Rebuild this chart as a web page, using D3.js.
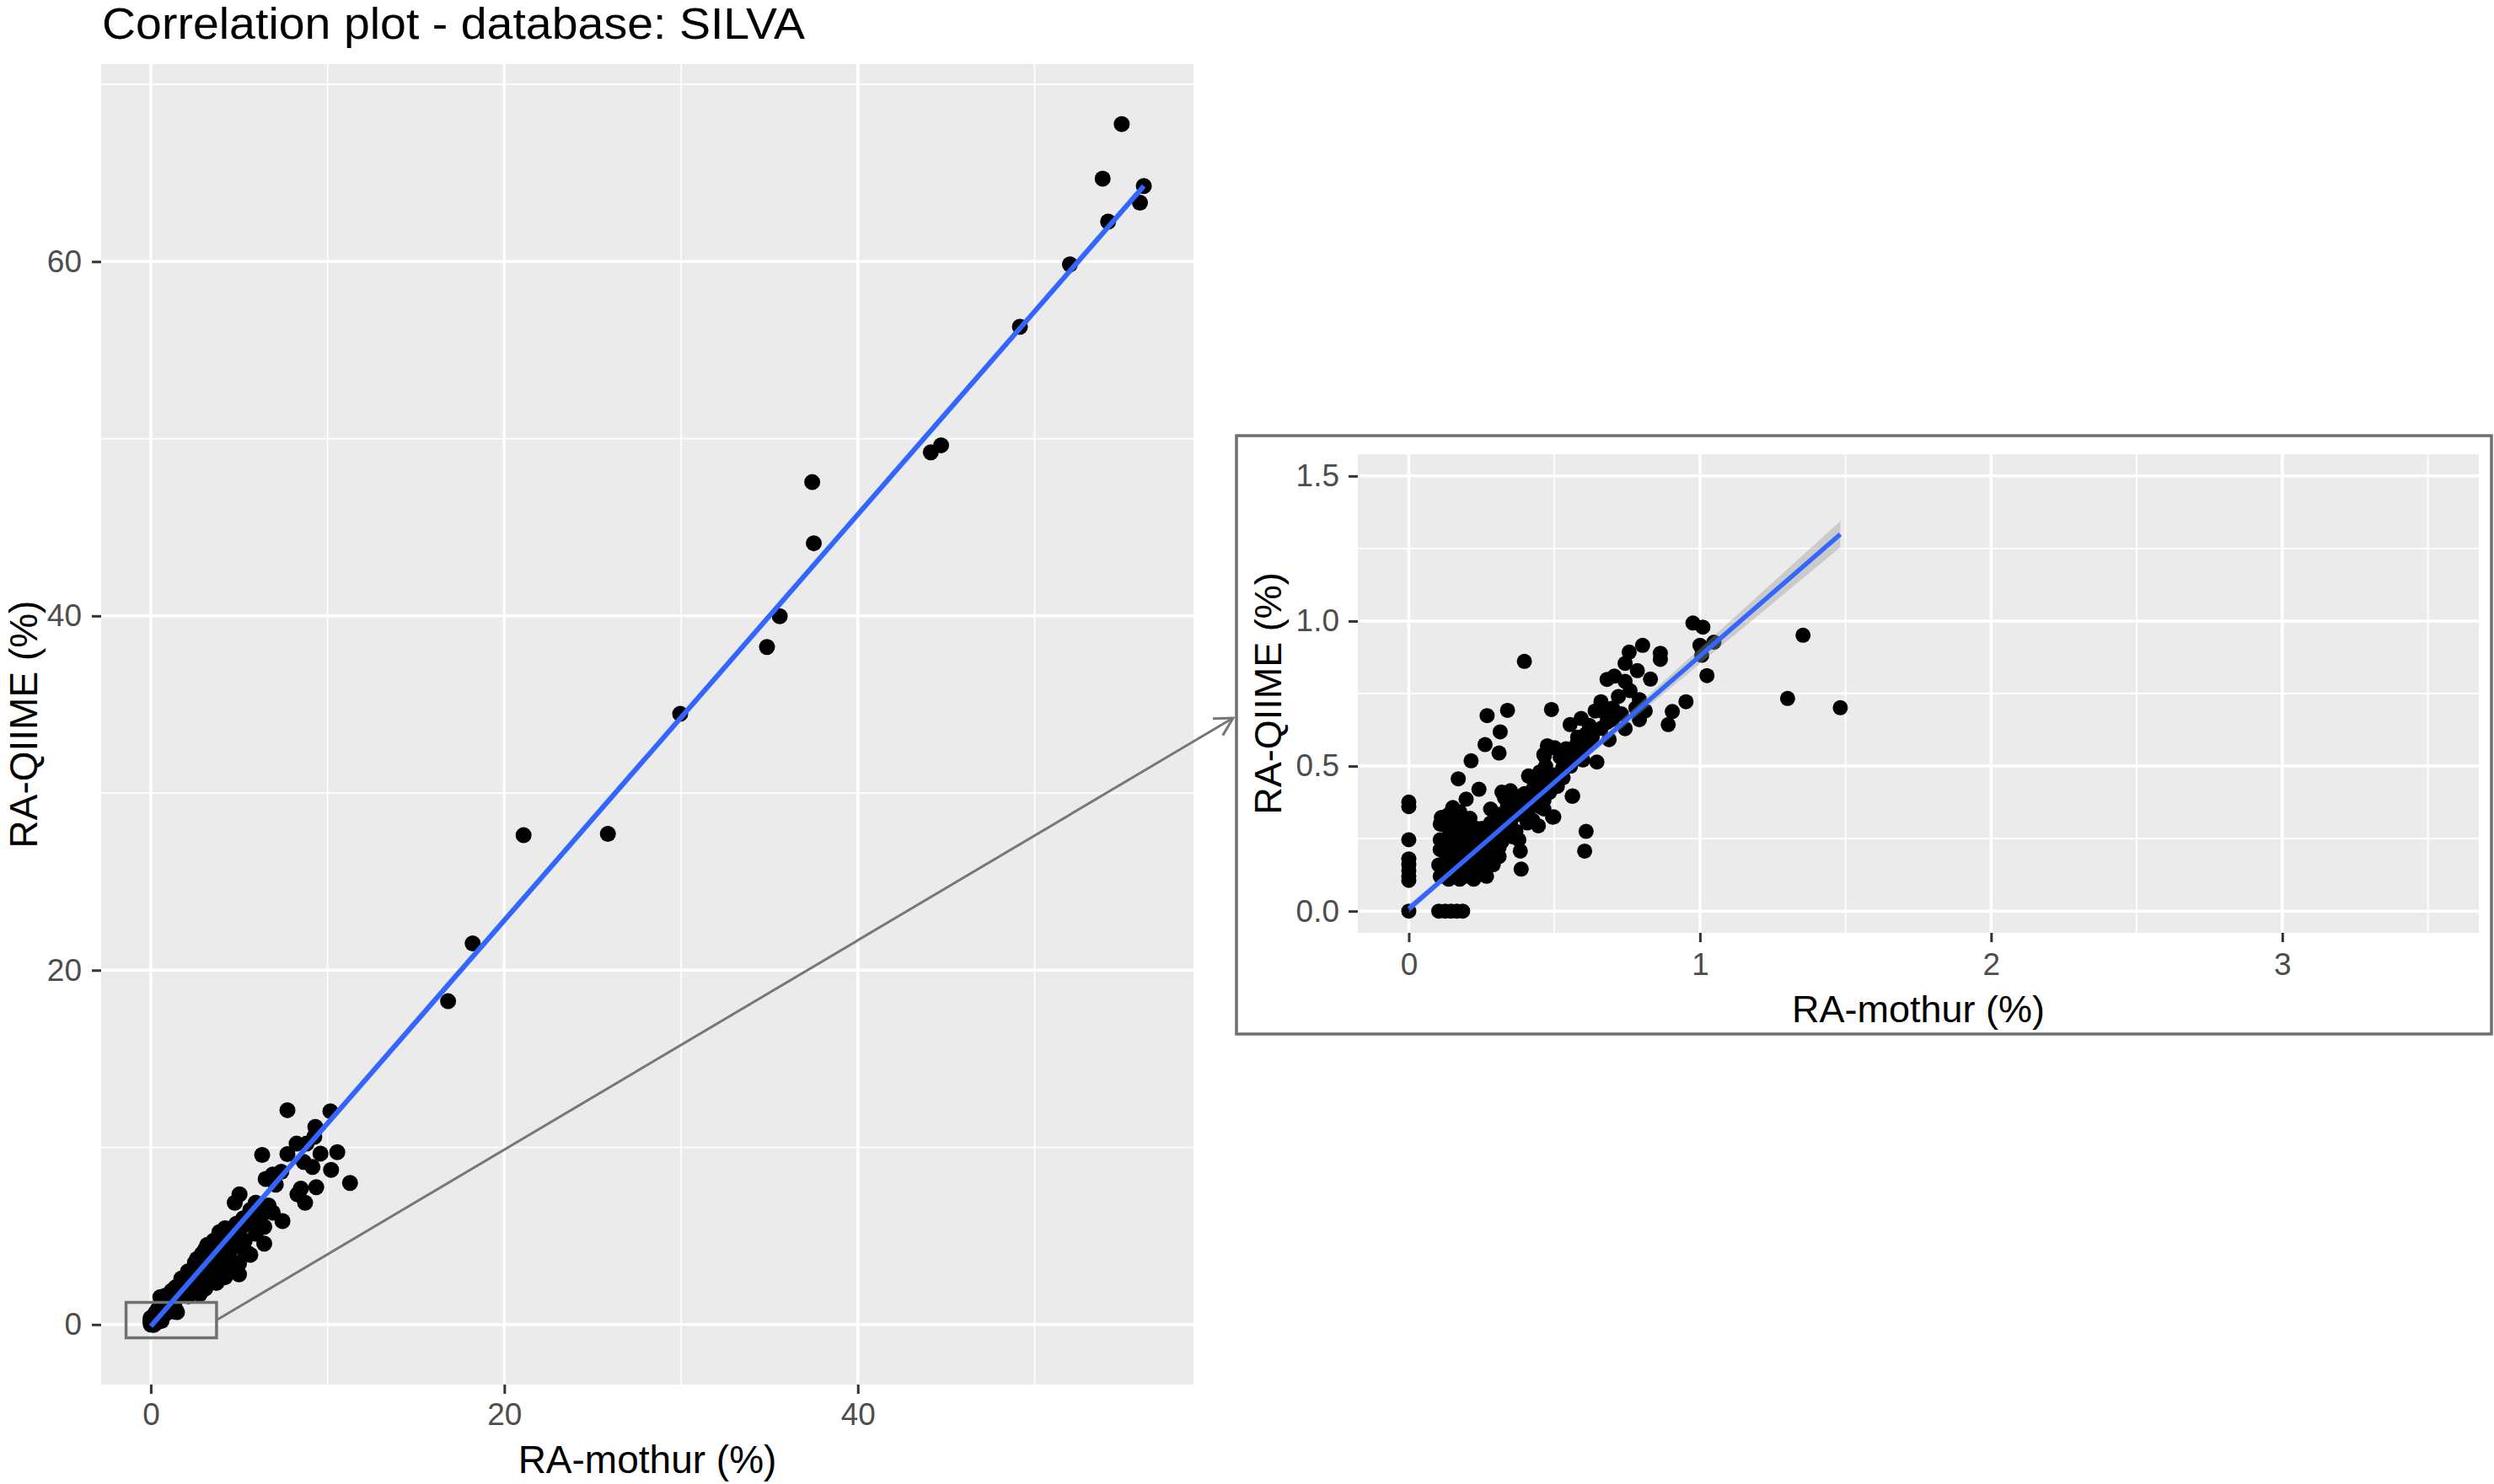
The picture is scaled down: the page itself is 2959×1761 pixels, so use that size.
<!DOCTYPE html>
<html lang="en">
<head>
<meta charset="UTF-8">
<title>Correlation plot - database: SILVA</title>
<script src="https://d3js.org/d3.v7.min.js"></script>
<style>
  body { margin: 0; background: #fff; }
  text { font-family: "Liberation Sans", Arial, sans-serif; }
</style>
</head>
<body>
<svg width="2959" height="1761"></svg>
<script>
// relative abundance (%) per taxon, as [mothur, QIIME]
// taxa inside the zoomed window (0-3.5 x 0-1.5)
const lowAbundance = [
  [0, 0.376], [0, 0.36], [0, 0.246], [0, 0.18], [0, 0.16], [0, 0.14], [0, 0.12], [0, 0.106], [0, 0],
  [0.103, 0], [0.125, 0], [0.145, 0], [0.165, 0], [0.185, 0],
  [0.108, 0.30], [0.108, 0.246], [0.108, 0.212], [0.103, 0.159], [0.108, 0.12],
  [0.137, 0.11], [0.175, 0.11], [0.223, 0.11],
  [0.262, 0.574], [0.31, 0.545], [0.214, 0.518], [0.17, 0.456], [0.241, 0.42], [0.197, 0.386],
  [0.151, 0.357], [0.175, 0.342], [0.112, 0.323], [0.281, 0.352], [0.416, 0.464], [0.464, 0.54],
  [0.561, 0.396], [0.498, 0.325], [0.445, 0.294], [0.609, 0.275], [0.604, 0.207], [0.383, 0.207],
  [0.386, 0.145], [0.31, 0.188], [0.267, 0.12],
  [0.137, 0.169], [0.165, 0.198], [0.194, 0.227], [0.223, 0.256], [0.252, 0.285], [0.281, 0.304],
  [0.31, 0.333], [0.339, 0.362], [0.368, 0.39], [0.397, 0.405], [0.426, 0.42], [0.455, 0.439], [0.484, 0.468],
  [0.146, 0.13], [0.185, 0.149], [0.214, 0.178], [0.243, 0.198], [0.272, 0.217], [0.252, 0.159],
  [0.223, 0.14], [0.194, 0.12],
  [0.204, 0.265], [0.233, 0.285], [0.262, 0.265], [0.291, 0.246], [0.32, 0.275], [0.349, 0.304],
  [0.378, 0.333], [0.407, 0.352], [0.436, 0.371], [0.464, 0.381], [0.484, 0.41],
  [0.329, 0.39], [0.358, 0.4], [0.387, 0.381], [0.32, 0.41], [0.349, 0.415],
  [0.165, 0.304], [0.137, 0.333], [0.127, 0.294], [0.117, 0.236], [0.137, 0.217], [0.165, 0.236], [0.185, 0.256],
  [0.281, 0.178], [0.262, 0.14], [0.291, 0.227], [0.329, 0.265], [0.358, 0.256], [0.368, 0.275],
  [0.407, 0.304], [0.426, 0.313], [0.464, 0.352], [0.378, 0.246],
  [0.12, 0.14], [0.13, 0.19], [0.15, 0.16], [0.16, 0.13], [0.18, 0.19], [0.2, 0.16], [0.21, 0.21],
  [0.23, 0.2], [0.24, 0.24], [0.26, 0.22], [0.27, 0.25], [0.28, 0.28], [0.3, 0.26], [0.3, 0.3],
  [0.31, 0.22], [0.33, 0.31], [0.34, 0.33], [0.35, 0.28], [0.36, 0.34], [0.37, 0.36], [0.39, 0.35],
  [0.4, 0.38], [0.41, 0.33], [0.42, 0.39], [0.44, 0.4], [0.45, 0.36], [0.47, 0.42], [0.49, 0.44],
  [0.5, 0.47], [0.51, 0.43], [0.53, 0.46], [0.55, 0.52], [0.57, 0.53], [0.6, 0.57], [0.63, 0.6],
  [0.68, 0.65], [0.73, 0.68], [0.78, 0.7], [0.17, 0.28], [0.19, 0.3], [0.14, 0.26], [0.22, 0.12],
  [0.25, 0.13], [0.29, 0.16], [0.32, 0.24], [0.21, 0.32],
  [0.397, 0.861], [0.269, 0.674], [0.339, 0.692], [0.314, 0.618], [0.49, 0.695], [0.554, 0.643],
  [0.592, 0.664], [0.66, 0.722], [0.681, 0.799], [0.706, 0.81], [0.743, 0.792], [0.743, 0.854],
  [0.757, 0.893], [0.785, 0.829], [0.803, 0.916], [0.864, 0.889], [0.864, 0.868], [0.976, 0.993],
  [1.01, 0.979], [1.0, 0.916], [1.006, 0.882], [1.048, 0.927], [1.024, 0.812], [0.952, 0.722],
  [0.905, 0.688], [0.891, 0.643], [0.792, 0.729], [0.812, 0.69], [0.792, 0.66], [0.743, 0.629],
  [0.688, 0.591], [0.667, 0.688], [0.646, 0.514], [0.609, 0.611], [0.577, 0.577], [0.598, 0.521],
  [0.563, 0.397], [0.494, 0.324], [0.476, 0.57], [0.466, 0.535], [0.501, 0.563], [0.411, 0.466],
  [0.446, 0.466], [0.529, 0.494], [0.556, 0.5], [0.307, 0.191],
  [0.52, 0.53], [0.54, 0.56], [0.58, 0.60], [0.62, 0.64], [0.64, 0.69], [0.70, 0.70], [0.72, 0.74],
  [0.76, 0.76], [0.83, 0.80], [0.45, 0.48], [0.47, 0.50], [0.58, 0.55], [0.62, 0.58], [0.66, 0.63], [0.70, 0.66],
  [1.301, 0.733], [1.354, 0.951], [1.482, 0.701]
];

const midAbundance = [
  [0.54, 1.55], [0.8, 1.62], [1.2, 1.7], [1.5, 1.58], [1.18, 1.9], [1.73, 2.59], [1.97, 2.03],
  [2.53, 1.87], [2.77, 1.71], [2.13, 1.6], [1.4, 2.1], [1.6, 1.8], [1.8, 2.6], [1.9, 2.2],
  [2.1, 3.0], [2.2, 2.5], [2.4, 2.9], [2.5, 2.3], [2.5, 3.5], [2.61, 3.7], [2.7, 3.2], [2.77, 2.83],
  [2.9, 4.0], [2.93, 3.3], [3.0, 2.7], [3.0, 3.5], [3.08, 2.03], [3.08, 4.25], [3.2, 4.5], [3.24, 2.35],
  [3.3, 3.9], [3.4, 2.99], [3.4, 3.94], [3.5, 3.1], [3.56, 4.73], [3.6, 4.2], [3.72, 3.44], [3.72, 2.35],
  [3.88, 2.67], [3.88, 5.21], [3.9, 4.6], [4.0, 3.4], [4.04, 3.78], [4.04, 4.89], [4.2, 4.57], [4.2, 5.44],
  [4.2, 2.67], [4.3, 5.0], [4.36, 3.0], [4.36, 4.1], [4.5, 3.7], [4.6, 5.3], [4.68, 4.41], [4.75, 6.87],
  [4.81, 3.13], [4.83, 4.89], [4.83, 5.68], [4.99, 2.83], [4.99, 3.44], [5.02, 7.35], [5.15, 5.52],
  [5.23, 6.0], [5.31, 4.1], [5.31, 4.73], [5.45, 4.06], [5.63, 3.94], [5.63, 6.47], [5.87, 5.52],
  [5.94, 5.13], [5.94, 6.87], [6.1, 5.84], [6.3, 9.57], [6.42, 4.57], [6.42, 5.52], [6.42, 6.32],
  [6.5, 8.22], [6.66, 6.72], [6.73, 6.4], [6.9, 6.32], [6.9, 8.47], [7.07, 7.9], [7.38, 8.62],
  [7.45, 5.84], [7.73, 9.62], [7.73, 12.1], [8.25, 10.21], [8.3, 7.35], [8.49, 7.67], [8.65, 9.18],
  [8.73, 6.87], [8.81, 10.21], [9.15, 8.89], [9.25, 10.6], [9.31, 11.16], [9.36, 7.75], [9.6, 9.65],
  [10.16, 12.04], [10.2, 8.73], [10.55, 9.73], [11.27, 7.99]
];

const highAbundance = [
  [16.82, 18.25], [18.21, 21.51], [21.09, 27.62], [25.86, 27.7], [29.95, 34.47], [34.86, 38.24],
  [35.58, 39.98], [37.42, 47.55], [37.51, 44.1], [44.13, 49.23], [44.71, 49.63], [49.17, 56.32],
  [52.0, 59.84], [54.16, 62.25], [53.85, 64.68], [54.93, 67.76], [55.96, 63.32], [56.18, 64.26]
];

// fitted lm lines (endpoints) and the inset's confidence band half-width
const mainFit = [[0, -0.1], [56.18, 64.26]];
const insetFit = [[0, 0.008], [1.482, 1.299]];
const insetBand = [[0, 0.015], [0.35, 0.006], [0.7, 0.015], [1.0, 0.026], [1.25, 0.036], [1.482, 0.045]];

// zoom window drawn on the main plot, and the inset's axis limits
const zoomBox = { x: [-1.4, 3.72], y: [-0.75, 1.25] };
const insetLimX = [0, 3.5];
const insetLimY = [0, 1.5];

const mainTicksX = [0, 20, 40], mainMinorX = [10, 30, 50];
const mainTicksY = [0, 20, 40, 60], mainMinorY = [10, 30, 50, 70];
const insetTicksX = [0, 1, 2, 3], insetMinorX = [0.5, 1.5, 2.5, 3.5];
const insetTicksY = [0, 0.5, 1.0, 1.5], insetMinorY = [0.25, 0.75, 1.25];

const FONT = '"Liberation Sans", Arial, sans-serif';
const svg = d3.select("svg");
svg.append("rect").attr("width", 2959).attr("height", 1761).attr("fill", "#fff");

function expand(ext) {
  const d = (ext[1] - ext[0]) * 0.05;
  return [ext[0] - d, ext[1] + d];
}

function drawPanel(cfg) {
  const g = svg.append("g");
  const x = d3.scaleLinear().domain(cfg.xDomain).range([cfg.left, cfg.right]);
  const y = d3.scaleLinear().domain(cfg.yDomain).range([cfg.bottom, cfg.top]);

  g.append("rect")
    .attr("x", cfg.left).attr("y", cfg.top)
    .attr("width", cfg.right - cfg.left).attr("height", cfg.bottom - cfg.top)
    .attr("fill", "#ebebeb");

  const grid = (vals, vertical, w) => g.append("g").selectAll("line").data(vals).join("line")
    .attr("x1", d => vertical ? x(d) : cfg.left).attr("x2", d => vertical ? x(d) : cfg.right)
    .attr("y1", d => vertical ? cfg.top : y(d)).attr("y2", d => vertical ? cfg.bottom : y(d))
    .attr("stroke", "#fff").attr("stroke-width", w);
  grid(cfg.minorX, true, 1.8);
  grid(cfg.minorY, false, 1.8);
  grid(cfg.ticksX, true, 3.5);
  grid(cfg.ticksY, false, 3.5);

  const xAxis = g.append("g").attr("transform", `translate(0,${cfg.bottom})`)
    .call(d3.axisBottom(x).tickValues(cfg.ticksX).tickFormat(cfg.fmtX).tickSize(11).tickPadding(cfg.padX));
  const yAxis = g.append("g").attr("transform", `translate(${cfg.left},0)`)
    .call(d3.axisLeft(y).tickValues(cfg.ticksY).tickFormat(cfg.fmtY).tickSize(11).tickPadding(cfg.padY));
  [xAxis, yAxis].forEach(a => {
    a.select(".domain").remove();
    a.attr("font-family", FONT).attr("font-size", 37);
    a.selectAll("line").attr("stroke", "#333").attr("stroke-width", 3);
    a.selectAll("text").attr("fill", "#4d4d4d");
  });

  g.append("text")
    .attr("x", (cfg.left + cfg.right) / 2).attr("y", cfg.xTitleY)
    .attr("text-anchor", "middle").attr("font-size", cfg.titleSize)
    .text("RA-mothur (%)");
  g.append("text")
    .attr("transform", `translate(${cfg.yTitleX},${(cfg.top + cfg.bottom) / 2}) rotate(-90)`)
    .attr("text-anchor", "middle").attr("font-size", cfg.titleSize)
    .text("RA-QIIME (%)");

  return { g, x, y };
}

// ---- main plot ----
const allPoints = lowAbundance.concat(midAbundance, highAbundance);
const main = drawPanel({
  left: 120, right: 1416, top: 76, bottom: 1643,
  xDomain: expand(d3.extent(allPoints, d => d[0])),
  yDomain: expand(d3.extent(allPoints, d => d[1])),
  ticksX: mainTicksX, minorX: mainMinorX, ticksY: mainTicksY, minorY: mainMinorY,
  fmtX: d3.format("d"), fmtY: d3.format("d"), padX: 11, padY: 12,
  xTitleY: 1748, yTitleX: 44, titleSize: 46
});

main.g.append("g").selectAll("circle").data(allPoints).join("circle")
  .attr("cx", d => main.x(d[0])).attr("cy", d => main.y(d[1]))
  .attr("r", 9.5).attr("fill", "#000");

main.g.append("rect")
  .attr("x", main.x(zoomBox.x[0])).attr("y", main.y(zoomBox.y[1]))
  .attr("width", main.x(zoomBox.x[1]) - main.x(zoomBox.x[0]))
  .attr("height", main.y(zoomBox.y[0]) - main.y(zoomBox.y[1]))
  .attr("fill", "none").attr("stroke", "#707070").attr("stroke-width", 3.5);

main.g.append("path")
  .attr("d", d3.line().x(d => main.x(d[0])).y(d => main.y(d[1]))(mainFit))
  .attr("fill", "none").attr("stroke", "#3366ff").attr("stroke-width", 6);

svg.append("text").attr("x", 121).attr("y", 46).attr("font-size", 51)
  .attr("textLength", 834).attr("lengthAdjust", "spacingAndGlyphs")
  .text("Correlation plot - database: SILVA");

// ---- inset ----
const box = { left: 1467, top: 517, right: 2956, bottom: 1227 };
svg.append("rect")
  .attr("x", box.left).attr("y", box.top)
  .attr("width", box.right - box.left).attr("height", box.bottom - box.top)
  .attr("fill", "#fff").attr("stroke", "#707070").attr("stroke-width", 3.5);

const inset = drawPanel({
  left: 1611, right: 2941, top: 539, bottom: 1107,
  xDomain: expand(insetLimX), yDomain: expand(insetLimY),
  ticksX: insetTicksX, minorX: insetMinorX, ticksY: insetTicksY, minorY: insetMinorY,
  fmtX: d3.format("d"), fmtY: d3.format(".1f"), padX: 13, padY: 11,
  xTitleY: 1213, yTitleX: 1520, titleSize: 45
});

const insetPoints = allPoints.filter(d =>
  d[0] >= insetLimX[0] && d[0] <= insetLimX[1] && d[1] >= insetLimY[0] && d[1] <= insetLimY[1]);

inset.g.append("g").selectAll("circle").data(insetPoints).join("circle")
  .attr("cx", d => inset.x(d[0])).attr("cy", d => inset.y(d[1]))
  .attr("r", 9).attr("fill", "#000");

const fitAt = t => insetFit[0][1] + (insetFit[1][1] - insetFit[0][1]) * (t - insetFit[0][0]) / (insetFit[1][0] - insetFit[0][0]);
inset.g.append("path")
  .attr("d", d3.area().curve(d3.curveMonotoneX)
    .x(d => inset.x(d[0]))
    .y0(d => inset.y(fitAt(d[0]) - d[1]))
    .y1(d => inset.y(fitAt(d[0]) + d[1]))(insetBand))
  .attr("fill", "#999").attr("fill-opacity", 0.4);

inset.g.append("path")
  .attr("d", d3.line().x(d => inset.x(d[0])).y(d => inset.y(d[1]))(insetFit))
  .attr("fill", "none").attr("stroke", "#3366ff").attr("stroke-width", 5.5);

// ---- arrow from zoom window to inset ----
const a0 = [main.x(zoomBox.x[1]), main.y((zoomBox.y[0] + zoomBox.y[1]) / 2)];
const a1 = [box.left - 4, 852];
const ang = Math.atan2(a1[1] - a0[1], a1[0] - a0[0]);
const head = [ang + Math.PI - 0.5, ang + Math.PI + 0.5].map(t => [a1[0] + 24 * Math.cos(t), a1[1] + 24 * Math.sin(t)]);
svg.append("line")
  .attr("x1", a0[0]).attr("y1", a0[1]).attr("x2", a1[0]).attr("y2", a1[1])
  .attr("stroke", "#777").attr("stroke-width", 3);
svg.append("path")
  .attr("d", d3.line()([head[0], a1, head[1]]))
  .attr("fill", "none").attr("stroke", "#777").attr("stroke-width", 3);
</script>
</body>
</html>
